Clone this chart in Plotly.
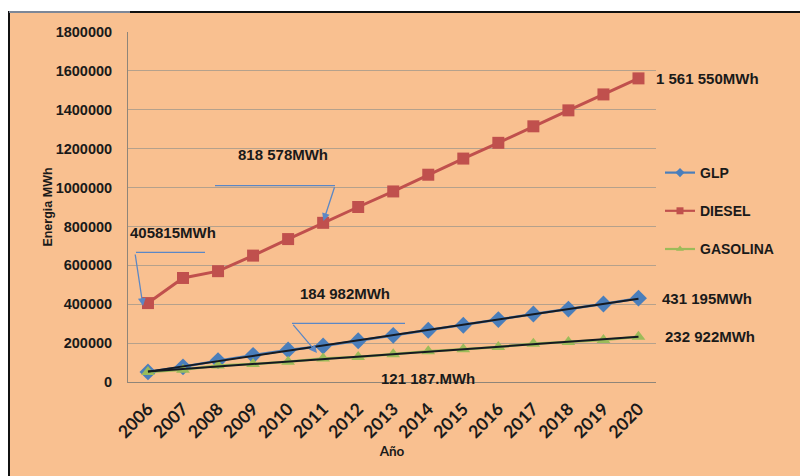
import numpy as np
import plotly.graph_objects as go

# Energy demand projection per fuel (MWh)
years = [2006, 2007, 2008, 2009, 2010, 2011, 2012, 2013, 2014, 2015, 2016, 2017, 2018, 2019, 2020]
glp = [52000, 78000, 110000, 137000, 165000, 184982, 212000, 240000, 266000, 292000, 321000, 350000, 375000, 401000, 431195]
diesel = [405815, 535000, 570000, 650000, 735000, 818578, 900000, 980000, 1066000, 1149000, 1230000, 1315000, 1397000, 1479000, 1561550]
gasolina = [52000, 63000, 85000, 92000, 104000, 121187, 129000, 143000, 158000, 168000, 180000, 197000, 206000, 216000, 232922]

year_labels = [str(y) for y in years]
y_ticks = [0, 200000, 400000, 600000, 800000, 1000000, 1200000, 1400000, 1600000, 1800000]

# Page / plot-area geometry (pixels)
WIDTH, HEIGHT = 800, 476
L, T, R, B = 128, 32, 656, 382
PW, PH = R - L, B - T

def fx(x):
    return (x - L) / PW

def fy(y):
    return (B - y) / PH

ORANGE = "#F9C090"
BLUE = "#4A7EBB"
RED = "#C0504D"
GREEN = "#9BBB59"
CALLOUT = "#5B87C5"
TXT = "#1a1a1a"
BOLD = "Liberation Sans, Arial, sans-serif"
CAL = "Lato, Liberation Sans, sans-serif"

series = [
    ("GLP", glp, BLUE, "diamond", 13, 2.5),
    ("DIESEL", diesel, RED, "square", 12, 3),
    ("GASOLINA", gasolina, GREEN, "triangle-up", 12, 2.5),
]

fig = go.Figure()

for name, vals, col, sym, size, lw in series:
    fig.add_trace(go.Scatter(
        x=years, y=vals, name=name, mode="lines+markers",
        line=dict(color=col, width=lw),
        marker=dict(symbol=sym, size=size, color=col),
        legendgroup=name, showlegend=False))

# Linear trend lines for GLP and GASOLINA
xa = np.array(years, dtype=float)
for vals in (glp, gasolina):
    k, c = np.polyfit(xa, np.array(vals, dtype=float), 1)
    fig.add_trace(go.Scatter(
        x=years, y=(k * xa + c).tolist(), mode="lines",
        line=dict(color="#151a22", width=2), showlegend=False, hoverinfo="skip"))

# Legend keys with small symbols
for name, vals, col, sym, size, lw in series:
    fig.add_trace(go.Scatter(
        x=[None], y=[None], name=name, mode="lines+markers",
        line=dict(color=col, width=2.2),
        marker=dict(symbol=sym, size=7, color=col),
        legendgroup=name, showlegend=True))

shapes = [
    # orange frame with black border, white strip outside
    dict(type="rect", xref="paper", yref="paper", layer="below",
         x0=fx(9), x1=fx(805), y0=fy(12), y1=fy(480),
         fillcolor=ORANGE, line=dict(width=0)),
    dict(type="line", xref="paper", yref="paper", layer="below",
         x0=fx(9), x1=fx(9), y0=fy(11), y1=fy(480), line=dict(color="#111111", width=2)),
    dict(type="line", xref="paper", yref="paper", layer="below",
         x0=fx(130), x1=fx(805), y0=fy(12), y1=fy(12), line=dict(color="#111111", width=2)),
    dict(type="line", xref="paper", yref="paper", layer="below",
         x0=fx(9), x1=fx(130), y0=fy(12), y1=fy(12), line=dict(color="#7d8797", width=2)),
    # callout leader lines
    dict(type="line", xref="paper", yref="paper",
         x0=fx(136), x1=fx(205), y0=fy(252.3), y1=fy(252.3), line=dict(color=CALLOUT, width=1.3)),
    dict(type="line", xref="paper", yref="paper",
         x0=fx(215), x1=fx(335), y0=fy(185.7), y1=fy(185.7), line=dict(color=CALLOUT, width=1.3)),
    dict(type="line", xref="paper", yref="paper",
         x0=fx(292), x1=fx(405), y0=fy(323.3), y1=fy(323.3), line=dict(color=CALLOUT, width=1.3)),
]

annotations = []

# callout arrows (head, tail in pixels)
for (hx, hy, tx, ty) in [(143, 306, 135, 253), (323.5, 221, 335, 185.7), (317, 353, 292, 323.3)]:
    annotations.append(dict(
        xref="paper", yref="paper", x=fx(hx), y=fy(hy), ax=tx - hx, ay=ty - hy,
        text="", showarrow=True, arrowhead=2, arrowsize=1.2, arrowwidth=1.3,
        arrowcolor=CALLOUT))

# callout texts
for (txt, cx, cy) in [("405815MWh", 173.3, 232.5), ("818 578MWh", 283.3, 154),
                      ("184 982MWh", 345, 293.3), ("121 187.MWh", 428, 378)]:
    annotations.append(dict(
        xref="paper", yref="paper", x=fx(cx), y=fy(cy), text=txt, showarrow=False,
        xanchor="center", yanchor="middle",
        font=dict(family=BOLD, size=15, color=TXT, weight="bold")))

# end-of-series value labels
for (txt, val, xs) in [("1 561 550MWh", diesel[-1], 16), ("431 195MWh", glp[-1], 22),
                       ("232 922MWh", gasolina[-1], 25)]:
    annotations.append(dict(
        x=years[-1], y=val, text=txt, showarrow=False, xanchor="left", yanchor="middle",
        xshift=xs, font=dict(family=BOLD, size=15, color=TXT, weight="bold")))

fig.update_layout(
    width=WIDTH, height=HEIGHT,
    margin=dict(l=L, r=WIDTH - R, t=T, b=HEIGHT - B, pad=0),
    paper_bgcolor="white", plot_bgcolor=ORANGE,
    shapes=shapes, annotations=annotations,
    legend=dict(x=fx(660), y=fy(157), xanchor="left", yanchor="top",
                bgcolor="rgba(0,0,0,0)", borderwidth=0, itemwidth=30,
                tracegroupgap=17, traceorder="grouped",
                font=dict(family=BOLD, size=14, color=TXT, weight="bold")),
    xaxis=dict(
        range=[2005.43, 2020.5], tickmode="array", tickvals=years, ticktext=year_labels,
        tickangle=-45, showgrid=False, zeroline=False,
        showline=True, linecolor="#8f8579", linewidth=1, ticks="",
        tickfont=dict(family=CAL, size=17.5, color=TXT, weight="bold"),
        ticklabelstandoff=9,
        title=dict(text="Año", standoff=5,
                   font=dict(family=CAL, size=13.5, color=TXT, weight="bold")),
        automargin=False),
    yaxis=dict(
        range=[0, 1800000], tickmode="array", tickvals=y_ticks,
        ticktext=[str(v) for v in y_ticks],
        showgrid=True, gridcolor="#b5a18c", gridwidth=1, zeroline=False,
        showline=True, linecolor="#8f8579", linewidth=1, ticks="",
        tickfont=dict(family=BOLD, size=14.5, color=TXT, weight="bold"),
        ticklabelstandoff=12,
        title=dict(text="Energia MWh", standoff=0,
                   font=dict(family=BOLD, size=12.5, color=TXT, weight="bold")),
        automargin=False),
)

fig.write_html("out.html")
